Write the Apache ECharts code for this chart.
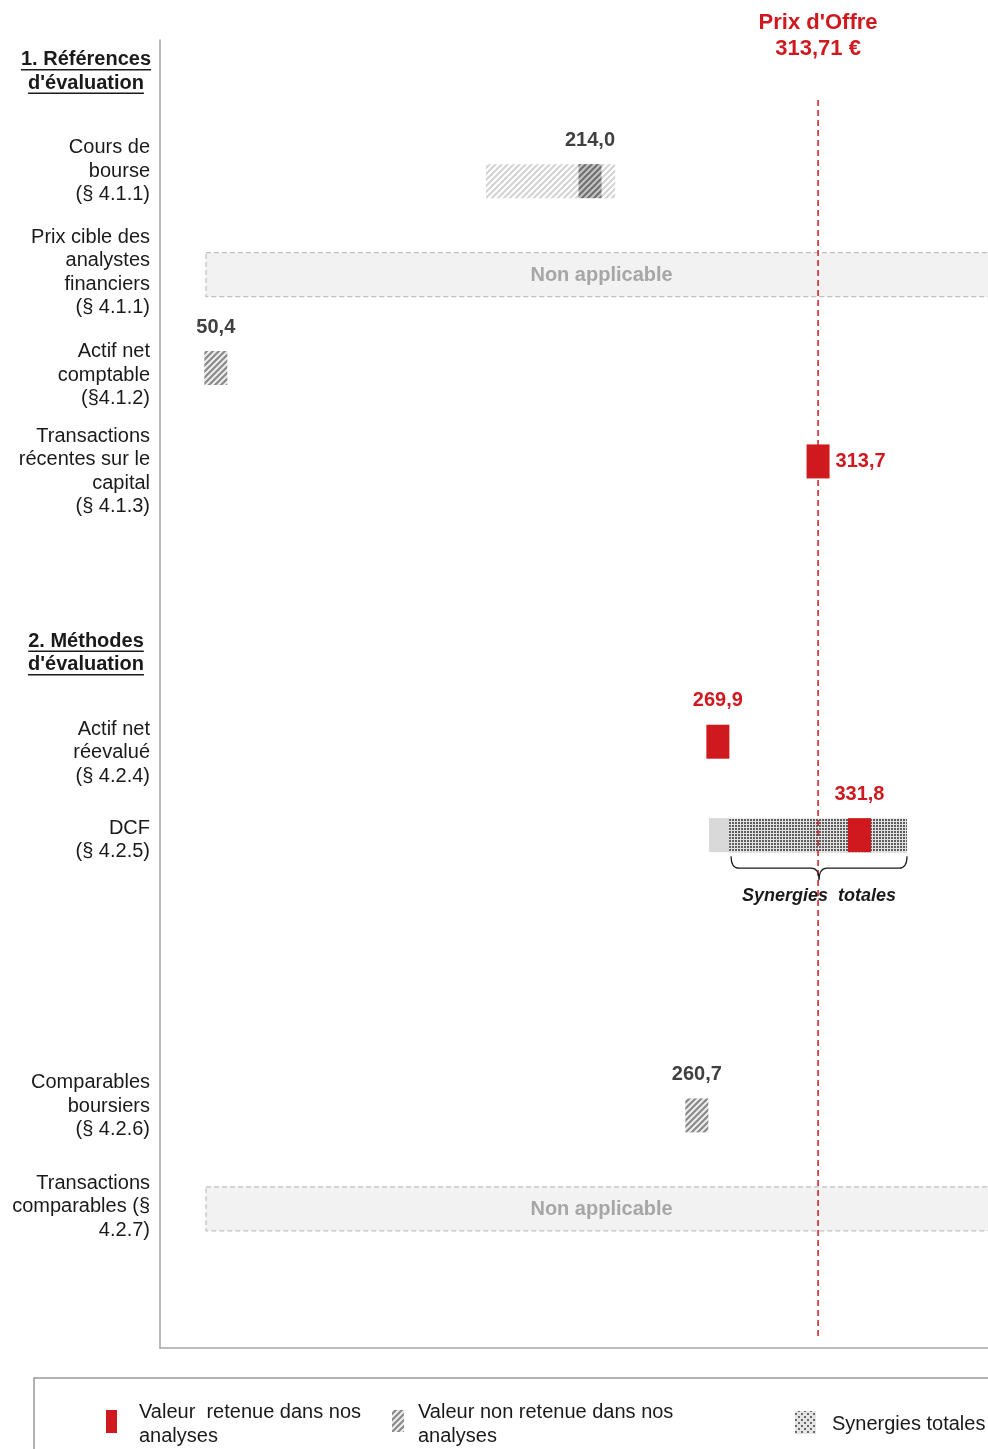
<!DOCTYPE html>
<html><head><meta charset="utf-8">
<script src="https://cdn.jsdelivr.net/npm/echarts@6/dist/echarts.min.js"></script>
<style>html,body{margin:0;padding:0;background:#fff;}#c{width:988px;height:1449px;}</style>
</head><body><div id="c"></div>
<script>
// ---------- data ----------
const rowLabels = [
  '',
  'Cours de\nbourse\n(§ 4.1.1)',
  'Prix cible des\nanalystes\nfinanciers\n(§ 4.1.1)',
  'Actif net\ncomptable\n(§4.1.2)',
  'Transactions\nrécentes sur le\ncapital\n(§ 4.1.3)',
  '',
  '',
  'Actif net\nréevalué\n(§ 4.2.4)',
  'DCF\n(§ 4.2.5)',
  '',
  '',
  'Comparables\nboursiers\n(§ 4.2.6)',
  'Transactions\ncomparables (§\n4.2.7)',
  ''
];
const sectionHeaders = [[0, "1. Références", "d'évaluation"], [6, "2. Méthodes", "d'évaluation"]];
const retained = [[4, 313.7], [7, 269.9], [8, 331.8]];          // [row, value]
const notRetained = [[1, 214.0], [3, 50.4], [11, 260.7]];       // [row, value]
const coursRange = [[1, 168.5, 225.0]];                          // [row, low, high]
const dcfBase = [[8, 266.0, 274.8]];
const synergies = [[8, 274.8, 352.6]];
const notApplicable = [[2, 46.1, 392], [12, 46.1, 392]];
const offerPrice = 313.71;
const offerTitle = ["Prix d'Offre", "313,71 €"];
const valueMin = 26, valueMax = 388;
const legendItems = ['Valeur  retenue dans nos\nanalyses', 'Valeur non retenue dans nos\nanalyses', 'Synergies totales'];

// ---------- layout / styles ----------
const labelShift = [0, -9, -1, 8, 11, 0, 0, 12, 6, 0, 0, -8, -1, 0]; // vertical nudge of row labels (px)
const RED = '#d0191e';
const FONT = "'Liberation Sans', Arial, sans-serif";
function hatch(bg, fg, s, lw) {
  const c = document.createElement('canvas'); c.width = s; c.height = s;
  const x = c.getContext('2d');
  x.fillStyle = bg; x.fillRect(0, 0, s, s);
  x.strokeStyle = fg; x.lineWidth = lw;
  x.beginPath();
  x.moveTo(0, s); x.lineTo(s, 0);
  x.moveTo(-1, 1); x.lineTo(1, -1);
  x.moveTo(s - 1, s + 1); x.lineTo(s + 1, s - 1);
  x.stroke();
  return { image: c, repeat: 'repeat' };
}
function dots(size, bg, fg, d) {
  const c = document.createElement('canvas'); c.width = size; c.height = size;
  const x = c.getContext('2d');
  x.fillStyle = bg; x.fillRect(0, 0, size, size);
  x.fillStyle = fg; x.fillRect(0, 0, d, d);
  if (size > 3) x.fillRect(size / 2, size / 2, d, d);
  return { image: c, repeat: 'repeat' };
}
const lightHatch = hatch('#ffffff', '#d2d2d2', 6, 2);
const midHatch = hatch('#eeeeee', '#8a8a8a', 6, 2.2);
const darkHatch = hatch('#c4c4c4', '#707070', 6, 2.2);
const dotFill = dots(3, '#e2e2e2', '#5e5e5e', 2);
const dotLegend = dots(6, '#e4e4e4', '#6a6a6a', 2);

const fmt = v => v.toFixed(1).replace('.', ',');
const BAR_H = 34, MARK_W = 23;

function rangeRender(fill) {
  return (params, api) => {
    const row = api.value(0);
    const a = api.coord([api.value(1), row]);
    const b = api.coord([api.value(2), row]);
    return { type: 'rect', shape: { x: a[0], y: a[1] - BAR_H / 2 + 1, width: b[0] - a[0], height: BAR_H }, style: { fill } };
  };
}
function markerRender(fill, labelColor, rightRows) {
  return (params, api) => {
    const row = api.value(0), v = api.value(1);
    const c = api.coord([v, row]);
    const right = rightRows.indexOf(row) >= 0;
    return {
      type: 'group', children: [
        { type: 'rect', shape: { x: c[0] - MARK_W / 2, y: c[1] - BAR_H / 2 + 1, width: MARK_W, height: BAR_H }, style: { fill } },
        { type: 'text', style: {
            text: fmt(v), x: right ? c[0] + MARK_W / 2 + 6 : c[0], y: right ? c[1] + 1 : c[1] - 40,
            align: right ? 'left' : 'center', verticalAlign: 'middle',
            fill: labelColor, font: 'bold 20px ' + FONT } }
      ]
    };
  };
}

const chart = echarts.init(document.getElementById('c'), null, { renderer: 'canvas' });

const mc = document.createElement('canvas').getContext('2d');
mc.font = 'bold 20px ' + FONT;
const headerGraphics = [];

const gapRich = {};
labelShift.forEach((s, i) => { if (s) gapRich['g' + i] = { lineHeight: 2 * Math.abs(s), fontSize: 1, height: 2 * Math.abs(s) }; });

const option = {
  animation: false,
  backgroundColor: '#ffffff',
  grid: { left: 160, right: 0, top: 40, bottom: 101, containLabel: false },
  xAxis: {
    type: 'value', min: valueMin, max: valueMax,
    axisLine: { show: true, onZero: false, lineStyle: { color: '#a6a6a6', width: 1.5 } },
    axisTick: { show: false }, axisLabel: { show: false }, splitLine: { show: false }
  },
  yAxis: {
    type: 'category', data: rowLabels, inverse: true,
    axisLine: { show: true, lineStyle: { color: '#a6a6a6', width: 1.5 } },
    axisTick: { show: false }, splitLine: { show: false },
    axisLabel: {
      color: '#1a1a1a', fontSize: 20, lineHeight: 23.5, fontFamily: FONT, align: 'right', margin: 10, interval: 0,
      formatter: (value, index) => {
        const s = labelShift[index];
        if (!s || !value) return value;
        const gap = '{g' + index + '|\u00a0}';
        return s > 0 ? gap + '\n' + value : value + '\n' + gap;
      },
      rich: gapRich
    }
  },
  series: [
    { type: 'custom', z: 1, clip: true, encode: { x: [1, 2], y: 0 }, data: notApplicable,
      renderItem: (params, api) => {
        const row = api.value(0);
        const a = api.coord([api.value(1), row]);
        const b = api.coord([api.value(2), row]);
        return { type: 'group', children: [
          { type: 'rect', shape: { x: a[0], y: a[1] - 21, width: b[0] - a[0], height: 44 },
            style: { fill: '#f2f2f2', stroke: '#c0c0c0', lineWidth: 1.2, lineDash: [5, 3] } },
          { type: 'text', style: { text: 'Non applicable', x: (a[0] + b[0]) / 2, y: a[1] + 2, align: 'center', verticalAlign: 'middle',
            fill: '#a6a6a6', font: 'bold 20px ' + FONT } }
        ] };
      } },
    { type: 'custom', z: 2, encode: { x: [1, 2], y: 0 }, data: coursRange, renderItem: rangeRender(lightHatch) },
    { type: 'custom', z: 2, encode: { x: [1, 2], y: 0 }, data: dcfBase, renderItem: rangeRender('#d9d9d9') },
    { type: 'custom', z: 2, encode: { x: [1, 2], y: 0 }, data: synergies, renderItem: rangeRender(dotFill) },
    { type: 'custom', z: 3, clip: false, encode: { x: 0 }, data: [[offerPrice]],
      renderItem: (params, api) => {
        const cs = params.coordSys;
        const x = api.coord([api.value(0), 0])[0];
        return { type: 'group', children: [
          { type: 'line', shape: { x1: x, y1: cs.y + 60, x2: x, y2: cs.y + cs.height - 8 },
            style: { stroke: RED, lineWidth: 1.5, lineDash: [6, 4] } },
          { type: 'text', style: { text: offerTitle.join('\n'), x: x, y: cs.y - 4, align: 'center', verticalAlign: 'middle',
            lineHeight: 26, fill: RED, font: 'bold 22px ' + FONT } }
        ] };
      } },
    { type: 'custom', z: 4, encode: { x: 1, y: 0 }, data: notRetained.filter(d => d[0] === 1),
      renderItem: markerRender(darkHatch, '#404040', []) },
    { type: 'custom', z: 4, encode: { x: 1, y: 0 }, data: notRetained.filter(d => d[0] !== 1),
      renderItem: markerRender(midHatch, '#404040', []) },
    { type: 'custom', z: 4, encode: { x: 1, y: 0 }, data: retained,
      renderItem: markerRender(RED, RED, [4]) },
    { type: 'custom', z: 5, clip: false, encode: { x: [1, 2], y: 0 }, data: synergies,
      renderItem: (params, api) => {
        const row = api.value(0);
        const a = api.coord([api.value(1), row]);
        const b = api.coord([api.value(2), row]);
        const L = a[0] + 2, R = b[0], M = (L + R) / 2, y0 = a[1] + 22, y1 = a[1] + 34, y2 = a[1] + 46;
        const d = `M${L},${y0} Q${L},${y1} ${L + 8},${y1} L${M - 8},${y1} Q${M},${y1} ${M},${y2} Q${M},${y1} ${M + 8},${y1} L${R - 8},${y1} Q${R},${y1} ${R},${y0}`;
        return { type: 'group', children: [
          { type: 'path', shape: { pathData: d }, style: { fill: 'none', stroke: '#1a1a1a', lineWidth: 1.2 } },
          { type: 'text', style: { text: 'Synergies  totales', x: M, y: a[1] + 62, align: 'center', verticalAlign: 'middle',
            fill: '#1a1a1a', font: 'italic bold 18px ' + FONT } }
        ] };
      } }
  ]
};
chart.setOption(option);

// section headers (underlined) placed at their row
sectionHeaders.forEach(h => {
  const yc = chart.convertToPixel({ yAxisIndex: 0 }, h[0]);
  const base = h[0] === 0 ? yc - 27 : yc - 6;
  [h[1], h[2]].forEach((t, i) => {
    const w = mc.measureText(t).width;
    const y = base + i * 23.5;
    headerGraphics.push({ type: 'text', x: 86, y: y, style: { text: t, align: 'center', verticalAlign: 'middle', fill: '#1a1a1a', font: 'bold 20px ' + FONT } });
    headerGraphics.push({ type: 'line', shape: { x1: 86 - w / 2, y1: y + 10, x2: 86 + w / 2, y2: y + 10 }, style: { stroke: '#1a1a1a', lineWidth: 1.5 } });
  });
});

// legend box
const legendGraphics = [
  { type: 'rect', shape: { x: 34, y: 1378, width: 1000, height: 120 }, style: { fill: 'none', stroke: '#999999', lineWidth: 1.5 } },
  { type: 'rect', shape: { x: 106, y: 1410, width: 11, height: 23 }, style: { fill: RED } },
  { type: 'text', x: 139, y: 1424, style: { text: legendItems[0], verticalAlign: 'middle', lineHeight: 24, fill: '#1a1a1a', font: '20px ' + FONT } },
  { type: 'rect', shape: { x: 392, y: 1410, width: 12, height: 22 }, style: { fill: midHatch } },
  { type: 'text', x: 418, y: 1424, style: { text: legendItems[1], verticalAlign: 'middle', lineHeight: 24, fill: '#1a1a1a', font: '20px ' + FONT } },
  { type: 'rect', shape: { x: 795, y: 1411, width: 21, height: 23 }, style: { fill: dotLegend } },
  { type: 'text', x: 832, y: 1424, style: { text: legendItems[2], verticalAlign: 'middle', fill: '#1a1a1a', font: '20px ' + FONT } }
];
chart.setOption({ graphic: headerGraphics.concat(legendGraphics) });
</script>
</body></html>
